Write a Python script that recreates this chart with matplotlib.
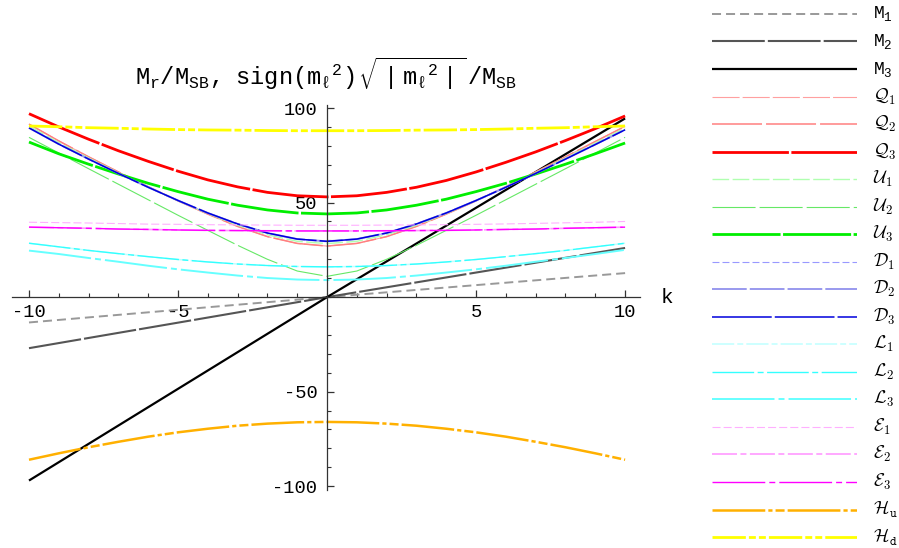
import numpy as np
import matplotlib
matplotlib.use("Agg")
import matplotlib.pyplot as plt
from matplotlib.ticker import MultipleLocator, FixedLocator

plt.rcParams['font.family'] = ['Liberation Mono', 'DejaVu Sans']
plt.rcParams['mathtext.fontset'] = 'custom'
plt.rcParams['mathtext.rm'] = 'Liberation Mono'
plt.rcParams['mathtext.it'] = 'Liberation Mono'
plt.rcParams['mathtext.tt'] = 'Liberation Mono'
plt.rcParams['mathtext.sf'] = 'Liberation Mono'
plt.rcParams['mathtext.bf'] = 'Liberation Mono:bold'
plt.rcParams['axes.unicode_minus'] = False
plt.rcParams['lines.scale_dashes'] = False

# masses vs k
k = np.arange(-10, 11)
k_line = [-10, 0, 10]

m1 = [-13.4, 0, 12.7]
m2 = [-27, 0, 26]
m3 = [-97, 0, 94.5]

q3 = [97, 90, 83.5, 77.4, 71.8, 66.6, 62.0, 58.3, 55.4, 53.6, 53, 53.6, 55.4, 58.1, 61.7, 66.2, 71.3, 76.8, 82.8, 89.1, 95.8]
q2 = [91.5, 82.6, 74.2, 66.2, 58.4, 50.9, 43.9, 37.4, 32.0, 28.4, 27, 28.4, 32.0, 37.4, 43.9, 50.9, 58.4, 66.2, 74.2, 82.3, 90.3]
q1 = q2
u1 = [90.5, 81.7, 73.6, 65.8, 58.2, 51.0, 44.2, 38.0, 33.0, 29.5, 28.3, 29.5, 33.0, 38.0, 44.2, 51.0, 58.2, 65.8, 73.6, 81.5, 89.4]
u2 = [84.5, 76.2, 67.9, 59.7, 51.5, 43.3, 35.3, 27.4, 20.0, 13.8, 11, 13.8, 20.0, 27.4, 35.3, 43.3, 51.5, 59.7, 67.9, 76.2, 84.5]
u3 = [82, 75.8, 70.3, 65.1, 60.2, 55.8, 51.8, 48.6, 46.1, 44.5, 44, 44.5, 46.1, 48.6, 51.8, 55.8, 60.2, 65.1, 70.3, 75.8, 81.5]
d3 = [89.5, 80.9, 73.0, 65.4, 58.1, 51.1, 44.5, 38.7, 33.9, 30.7, 29.5, 30.7, 33.9, 38.7, 44.5, 51.1, 58.1, 65.4, 73.0, 80.7, 88.5]
d1 = d3
d2 = d3
l2 = [28.5, 26.6, 24.7, 23.0, 21.4, 19.9, 18.6, 17.5, 16.7, 16.2, 16, 16.2, 16.7, 17.5, 18.6, 19.9, 21.4, 23.0, 24.7, 26.6, 28.5]
l1 = l2
l3 = [24.6, 22.8, 20.7, 18.7, 16.6, 14.7, 13.0, 11.4, 10.1, 9.3, 9, 9.3, 10.1, 11.4, 13.0, 14.7, 16.6, 18.7, 20.7, 22.8, 25]
e1 = [39.6, 39.4, 39.2, 38.9, 38.6, 38.5, 38.3, 38.2, 38.1, 38.0, 38, 38.0, 38.1, 38.2, 38.3, 38.5, 38.7, 39.0, 39.3, 39.6, 40]
e3 = [37, 36.7, 36.4, 36.0, 35.8, 35.5, 35.3, 35.2, 35.1, 35.0, 35, 35.0, 35.1, 35.2, 35.3, 35.5, 35.8, 36.0, 36.4, 36.7, 37]
e2 = e3
hu = [-86, -82.6, -79.4, -76.5, -73.8, -71.5, -69.6, -68.0, -66.9, -66.2, -66, -66.2, -66.9, -68.0, -69.6, -71.5, -73.8, -76.5, -79.4, -82.6, -86]
hd = [90.5, 90.1, 89.6, 89.3, 88.9, 88.6, 88.4, 88.3, 88.1, 88.0, 88, 88.0, 88.1, 88.3, 88.4, 88.6, 88.9, 89.3, 89.6, 90.1, 90.5]

# label, x, y, color, width, dashes
series = [
    ('M$_1$', k_line, m1, '#999999', 1.4, (6.5, 3.6)),
    ('M$_2$', k_line, m2, '#555555', 1.5, (38, 2.2)),
    ('M$_3$', k_line, m3, 'black', 1.6, None),
    (r'$\mathcal{Q}_1$', k, q1, '#FFA0A0', 0.8, (19.5, 2.2)),
    (r'$\mathcal{Q}_2$', k, q2, '#FF8080', 1.1, (36, 2.9)),
    (r'$\mathcal{Q}_3$', k, q3, '#FF0000', 2.0, (55, 1.8)),
    (r'$\mathcal{U}_1$', k, u1, '#B0FFB0', 1.0, (12, 2.5)),
    (r'$\mathcal{U}_2$', k, u2, '#66E866', 0.8, (31, 2.9)),
    (r'$\mathcal{U}_3$', k, u3, '#00EE00', 2.0, (49, 1.8)),
    (r'$\mathcal{D}_1$', k, d1, '#9999FF', 0.8, (5, 2.2)),
    (r'$\mathcal{D}_2$', k, d2, '#9999EE', 1.4, (25, 2.2)),
    (r'$\mathcal{D}_3$', k, d3, '#0000DD', 1.1, (43, 2.2)),
    (r'$\mathcal{L}_1$', k, l1, '#C0FFFF', 1.1, (16, 2.2, 4.3, 2.2)),
    (r'$\mathcal{L}_2$', k, l2, '#33FFFF', 1.0, (30, 2.5, 4.3, 2.5)),
    (r'$\mathcal{L}_3$', k, l3, '#66FFFF', 1.4, (45, 2.9, 4.3, 2.9)),
    (r'$\mathcal{E}_1$', k, e1, '#FFB0FF', 0.8, (5.8, 2.2)),
    (r'$\mathcal{E}_2$', k, e2, '#FF99FF', 1.2, (18, 2.5, 4.3, 2.5)),
    (r'$\mathcal{E}_3$', k, e3, '#FF00FF', 1.0, (38, 2.9, 4.3, 2.9)),
    (r'$\mathcal{H}_\mathtt{u}$', k, hu, '#FFB000', 1.8, (38, 2.2, 3, 2.2, 6.5, 2.2)),
    (r'$\mathcal{H}_\mathtt{d}$', k, hd, '#FFFF00', 2.0, (24, 2.2, 5, 2.2, 5, 2.2)),
]

fig = plt.figure(figsize=(8.99, 5.48), dpi=100)
ax = fig.add_axes([12/899, 58/548, 628/899, 385/548])
ax_leg = fig.add_axes([712/899, -2.8/548, 145/899, 550.6/548])

for i, (lab, x, y, c, lw, ds) in enumerate(series):
    ls = '-' if ds is None else (0, ds)
    ax.plot(x, y, color=c, lw=lw, linestyle=ls, solid_capstyle='butt', dash_capstyle='butt')
    ax_leg.plot([0, 1], [i, i], color=c, lw=lw, linestyle=ls, solid_capstyle='butt', dash_capstyle='butt')
    if lab.startswith('M'):
        ax_leg.text(1.11, i, lab, fontsize=13, va='center', ha='left')
    else:
        ax_leg.text(1.11, i, lab, fontsize=13, va='center', ha='left', math_fontfamily='cm')

ax_leg.set_xlim(0, 1)
ax_leg.set_ylim(len(series) - 0.5, -0.5)
ax_leg.axis('off')

ax.set_xlim(-10.57, 10.5)
ax.set_ylim(-102, 101.6)
for s in ['top', 'right']:
    ax.spines[s].set_visible(False)
ax.spines['left'].set_position(('data', 0))
ax.spines['bottom'].set_position(('data', 0))
for s in ['left', 'bottom']:
    ax.spines[s].set_color('#333333')
    ax.spines[s].set_linewidth(0.9)

ax.xaxis.set_major_locator(FixedLocator([-10, -5, 5, 10]))
ax.yaxis.set_major_locator(FixedLocator([-100, -50, 50, 100]))
ax.xaxis.set_minor_locator(MultipleLocator(1))
ax.yaxis.set_minor_locator(MultipleLocator(10))
ax.tick_params(which='major', direction='in', length=5, width=0.9, color='#333333', labelsize=13.5)
ax.tick_params(which='minor', direction='in', length=3, width=0.8, color='#333333')
ax.tick_params(axis='x', pad=5)
ax.tick_params(axis='y', pad=7)

ax.text(11.4, 0, 'k', fontsize=15, ha='center', va='center', clip_on=False)

title = (r'$\mathtt{M_r/M_{SB},\ \ sign(m_{\ell}{}^{2})\,\sqrt{\ |\ m_{\ell}{}^{2}\ |\ }\,/M_{SB}}$')
fig.text(326/899, 1 - 74/548, title, fontsize=17, ha='center', va='center')

fig.savefig('out.png', dpi=100)
